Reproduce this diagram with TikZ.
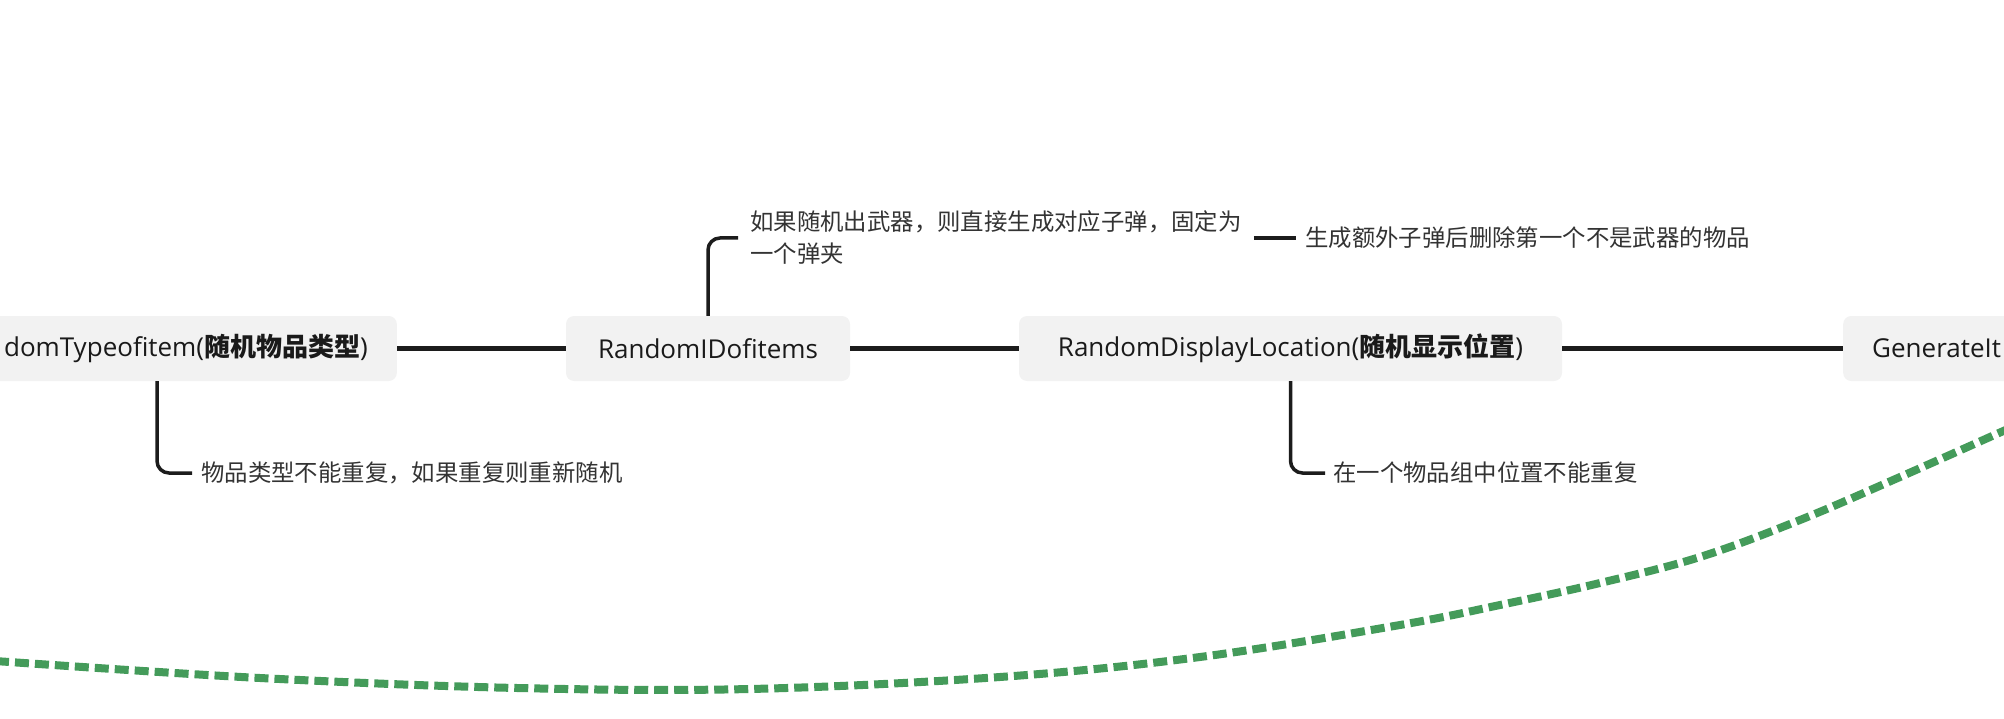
\documentclass[tikz,border=0pt]{standalone}
\usepackage{fontspec}
\setmainfont{Open Sans}
\newfontfamily\cjk{Noto Sans CJK SC}
\definecolor{boxfill}{RGB}{242,242,242}
\definecolor{linec}{RGB}{28,28,28}
\definecolor{txt}{RGB}{26,26,26}
\definecolor{notec}{RGB}{51,51,51}
\definecolor{dashgreen}{RGB}{68,155,90}
\begin{document}
\begin{tikzpicture}[x=1pt,y=-1pt,
  topic/.style={fill=boxfill, rounded corners=8pt, minimum height=65pt,
    inner xsep=29pt, inner ysep=0pt, text=txt,
    font=\fontsize{26}{30}\selectfont},
  note/.style={inner xsep=9pt, inner ysep=2pt, text=notec,
    font=\cjk\fontsize{23.4}{32}\selectfont, align=left},
  link/.style={draw=linec, line width=4.5pt},
  branch/.style={draw=linec, line width=3.5pt, rounded corners=12pt},
  flow/.style={draw=dashgreen, line width=8pt, dash pattern=on 14pt off 6pt}]
\useasboundingbox (0,0) rectangle (2004,719);
\clip (0,0) rectangle (2004,719);

% main topics
\node[topic, anchor=east] (n1) at (397,348.5)
  {domTypeofitem({\cjk\bfseries 随机物品类型})};
\node[topic, minimum width=284pt] (n2) at (708,348.5) {RandomIDofitems};
\node[topic, minimum width=543pt] (n3) at (1290.5,348.5)
  {RandomDisplayLocation({\cjk\bfseries 随机显示位置})};
\node[topic, anchor=west, minimum width=300pt, align=left] (n4) at (1843,348.5)
  {GenerateIt\hspace{200pt}};

\draw[link] (n1.east) -- (n2.west);
\draw[link] (n2.east) -- (n3.west);
\draw[link] (n3.east) -- (n4.west);

% notes
\node[note, anchor=west, inner xsep=12pt] (a1) at (738,238)
  {如果随机出武器，则直接生成对应子弹，固定为\\一个弹夹};
\node[note, anchor=west] (a2) at (1296,238)
  {生成额外子弹后删除第一个不是武器的物品};
\node[note, anchor=west] (a3) at (192,473)
  {物品类型不能重复，如果重复则重新随机};
\node[note, anchor=west, inner xsep=8pt] (a4) at (1325,473)
  {在一个物品组中位置不能重复};

\coordinate (b1) at (157,381);
\draw[branch] (n2.north) |- (a1.west);
\draw[branch] (a1.east |- a2.west) -- (a2.west);
\draw[branch] (b1) |- (a3.west);
\draw[branch] (n3.south) |- (a4.west);

% relationship curve
\draw[flow] plot[smooth, tension=0.6] coordinates {
  (-5,661) (260,678) (517,688) (750,689) (1000,677) (1200,657)
  (1400,625) (1500,605) (1600,583) (1700,557) (1800,520) (1900,477) (2010,428)};
\end{tikzpicture}
\end{document}
